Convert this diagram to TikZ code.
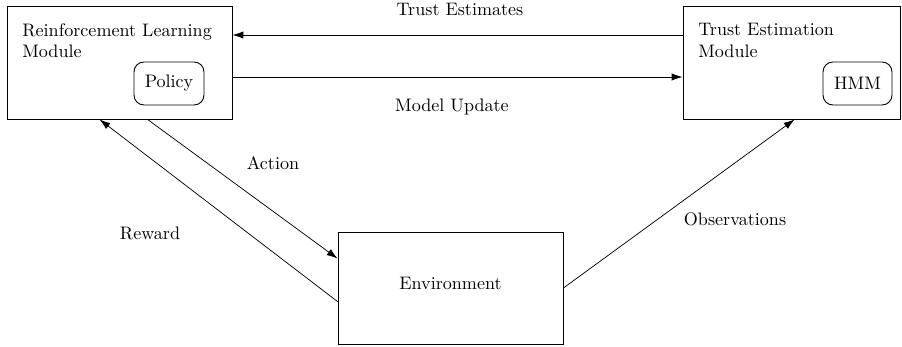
\documentclass[tikz,border=0pt]{standalone}
\usetikzlibrary{calc,arrows.meta}
\begin{document}
\begin{tikzpicture}[x=0.553pt,y=-0.553pt,
  box/.style={draw,line width=0.5pt,inner sep=0pt},
  sub/.style={draw,line width=0.5pt,rounded corners=5.5pt,inner sep=0pt},
  title/.style={anchor=north west,align=left,inner sep=0pt,font=\normalsize},
  lab/.style={inner sep=0pt},
  flow/.style={-{Latex[length=6pt,width=4pt]},line width=0.4pt}]
\useasboundingbox (0,0) rectangle (902,347);
\node[box,minimum width=225*0.553pt,minimum height=113*0.553pt] (L) at (119.5,62.5) {};
\node[box,minimum width=217*0.553pt,minimum height=113*0.553pt] (R) at (791.5,62.5) {};
\node[box,minimum width=225*0.553pt,minimum height=112*0.553pt] (E) at (450.5,288) {};
\node[lab] (ET) at (450.5,283) {Environment};
\node[sub,minimum width=70*0.553pt,minimum height=43*0.553pt] (P) at (169,83.5) {Policy};
\node[sub,minimum width=69*0.553pt,minimum height=43*0.553pt] (H) at (857.5,83.5) {HMM};
\node[title] (LT) at (22,23) {Reinforcement Learning\\Module};
\node[title] (RT) at (698,23) {Trust Estimation\\Module};
\draw[flow] (R.west |- 0,35) -- (L.east |- 0,35);
\draw[flow] (L.east |- 0,77) -- (R.west |- 0,77);
\draw[flow] ($(L.south west)+(141,0)$) -- ($(E.north west)+(0,27)$);
\draw[flow] ($(E.north west)+(0,70)$) -- ($(L.south west)+(93,0)$);
\draw[flow] (E.east) -- ($(R.south west)+(112,0)$);
\node[lab] (t1) at (460,9) {Trust Estimates};
\node[lab] (t2) at (452,107) {Model Update};
\node[lab] (t3) at (273,163) {Action};
\node[lab] (t4) at (150,233) {Reward};
\node[lab] (t5) at (735,219) {Observations};
\end{tikzpicture}
\end{document}
